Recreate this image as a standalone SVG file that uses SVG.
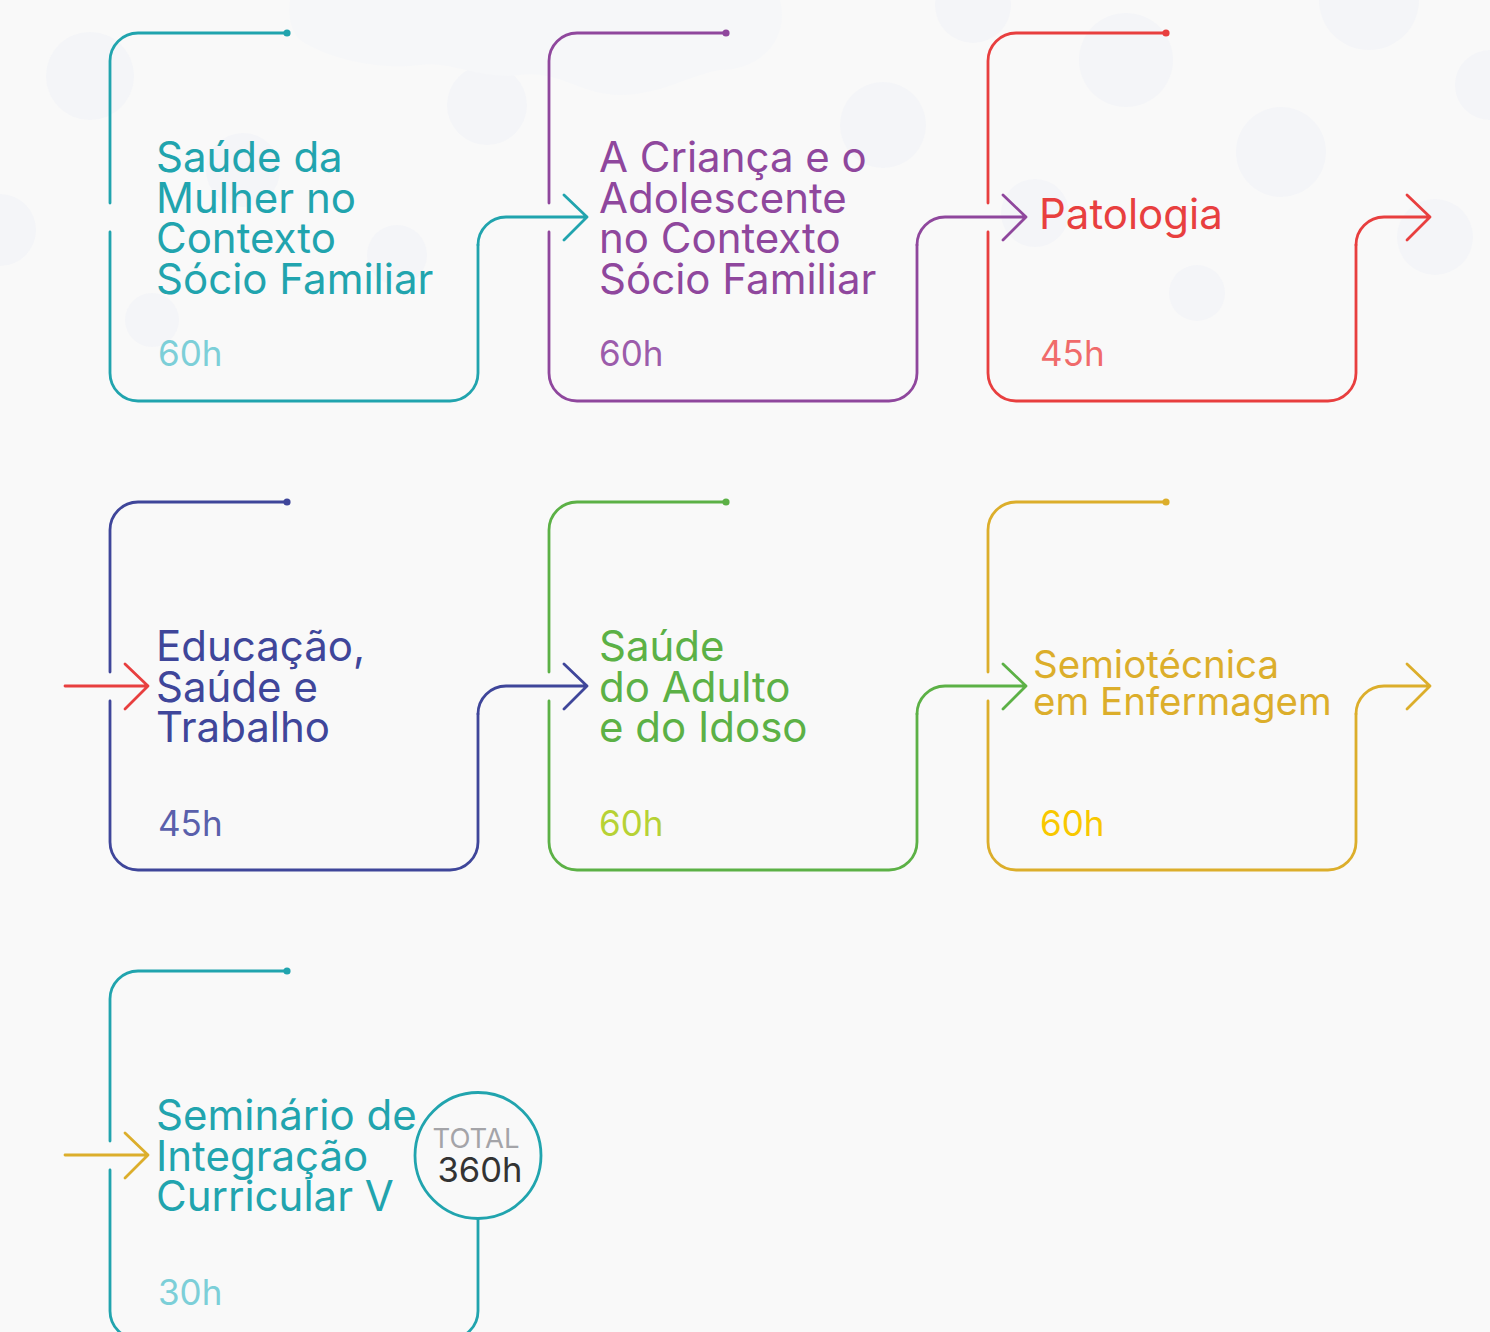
<svg xmlns="http://www.w3.org/2000/svg" width="1490" height="1332" viewBox="0 0 1490 1332">
<style>
.ln{fill:none;stroke-width:2.8;stroke-linecap:round;stroke-linejoin:round}
.t{font-family:Inter,"Noto Sans",sans-serif;font-size:42px}
.t2{font-family:Inter,"Noto Sans",sans-serif;font-size:38.5px}
.h{font-family:Inter,"Noto Sans",sans-serif;font-size:35px}
.teal{stroke:#21a4ae}.purple{stroke:#8f479d}.red{stroke:#e83f3f}.navy{stroke:#3f469a}.green{stroke:#5cb146}.yellow{stroke:#dcae2b}
.fteal{fill:#21a4ae}.fpurple{fill:#8f479d}.fred{fill:#e83f3f}.fnavy{fill:#3f469a}.fgreen{fill:#5cb146}.fyellow{fill:#dcae2b}
.bg{fill:#f4f5f8}
.bg2{fill:#f6f7f9}
</style>
<rect width="1490" height="1332" fill="#f9f9f9"/>
<g id="background">
<circle class="bg" cx="90" cy="76" r="44"/>
<circle class="bg" cx="0" cy="230" r="36"/>
<circle class="bg" cx="243" cy="170" r="37"/>
<circle class="bg" cx="152" cy="320" r="27"/>
<circle class="bg" cx="397" cy="255" r="30"/>
<circle class="bg" cx="487" cy="105" r="40"/>
<path class="bg2" d="M290 0 H780 C790 40 760 70 720 70 C690 75 660 95 620 95 C580 95 560 70 520 75 C480 80 450 60 420 65 C380 70 330 60 300 40 C290 30 288 15 290 0 Z"/>
<circle class="bg" cx="883" cy="125" r="43"/>
<circle class="bg" cx="973" cy="5" r="38"/>
<circle class="bg" cx="1035" cy="213" r="34"/>
<circle class="bg" cx="1126" cy="60" r="47"/>
<circle class="bg" cx="1281" cy="152" r="45"/>
<circle class="bg" cx="1369" cy="0" r="50"/>
<circle class="bg" cx="1490" cy="85" r="35"/>
<circle class="bg" cx="1435" cy="237" r="38"/>
<circle class="bg" cx="1197" cy="293" r="28"/>
</g>

<g id="connectors">
<path class="ln teal" d="M478 245 A28 28 0 0 1 506 217 H587 M564 195 L587 217 L564 240"/>
<path class="ln purple" d="M917 245 A28 28 0 0 1 945 217 H1026 M1003 195 L1026 217 L1003 240"/>
<path class="ln red" d="M1356 245 A28 28 0 0 1 1384 217 H1430 M1407 195 L1430 217 L1407 240"/>
<path class="ln red" d="M65 686 H148 M125 664 L148 686 L125 709"/>
<path class="ln navy" d="M478 714 A28 28 0 0 1 506 686 H587 M564 664 L587 686 L564 709"/>
<path class="ln green" d="M917 714 A28 28 0 0 1 945 686 H1026 M1003 664 L1026 686 L1003 709"/>
<path class="ln yellow" d="M1356 714 A28 28 0 0 1 1384 686 H1430 M1407 664 L1430 686 L1407 709"/>
<path class="ln yellow" d="M65 1155 H148 M125 1133 L148 1155 L125 1178"/>
</g>

<g id="node-saude-mulher">
<path class="ln teal" d="M287 33 H138 A28 28 0 0 0 110 61 V203 M110 232 V373 A28 28 0 0 0 138 401 H450 A28 28 0 0 0 478 373 V245"/>
<circle class="fteal" cx="287" cy="33" r="3.6"/>
<text class="t fteal" x="156" y="172"><tspan x="156">Saúde da</tspan><tspan x="156" dy="40.5">Mulher no</tspan><tspan x="156" dy="40.5">Contexto</tspan><tspan x="156" dy="40.5">Sócio Familiar</tspan></text>
<text class="h" x="158" y="366" fill="#7ccfd8">60h</text>
</g>

<g id="node-crianca">
<path class="ln purple" d="M726 33 H577 A28 28 0 0 0 549 61 V203 M549 232 V373 A28 28 0 0 0 577 401 H889 A28 28 0 0 0 917 373 V245"/>
<circle class="fpurple" cx="726" cy="33" r="3.6"/>
<text class="t fpurple" x="599" y="172"><tspan x="599">A Criança e o</tspan><tspan x="599" dy="40.5">Adolescente</tspan><tspan x="599" dy="40.5">no Contexto</tspan><tspan x="599" dy="40.5">Sócio Familiar</tspan></text>
<text class="h" x="599" y="366" fill="#9c5cab">60h</text>
</g>

<g id="node-patologia">
<path class="ln red" d="M1166 33 H1016 A28 28 0 0 0 988 61 V203 M988 232 V373 A28 28 0 0 0 1016 401 H1328 A28 28 0 0 0 1356 373 V245"/>
<circle class="fred" cx="1166" cy="33" r="3.6"/>
<text class="t fred" x="1039" y="229">Patologia</text>
<text class="h" x="1040" y="366" fill="#f06b6b">45h</text>
</g>

<g id="node-educacao">
<path class="ln navy" d="M287 502 H138 A28 28 0 0 0 110 530 V672 M110 701 V842 A28 28 0 0 0 138 870 H450 A28 28 0 0 0 478 842 V714"/>
<circle class="fnavy" cx="287" cy="502" r="3.6"/>
<text class="t fnavy" x="156" y="661"><tspan x="156">Educação,</tspan><tspan x="156" dy="40.5">Saúde e</tspan><tspan x="156" dy="40.5">Trabalho</tspan></text>
<text class="h" x="158" y="836" fill="#5a60ab">45h</text>
</g>

<g id="node-adulto">
<path class="ln green" d="M726 502 H577 A28 28 0 0 0 549 530 V672 M549 701 V842 A28 28 0 0 0 577 870 H889 A28 28 0 0 0 917 842 V714"/>
<circle class="fgreen" cx="726" cy="502" r="3.6"/>
<text class="t fgreen" x="599" y="661"><tspan x="599">Saúde</tspan><tspan x="599" dy="40.5">do Adulto</tspan><tspan x="599" dy="40.5">e do Idoso</tspan></text>
<text class="h" x="599" y="836" fill="#b7d235">60h</text>
</g>

<g id="node-semiotecnica">
<path class="ln yellow" d="M1166 502 H1016 A28 28 0 0 0 988 530 V672 M988 701 V842 A28 28 0 0 0 1016 870 H1328 A28 28 0 0 0 1356 842 V714"/>
<circle class="fyellow" cx="1166" cy="502" r="3.6"/>
<text class="t2 fyellow" x="1033" y="678"><tspan x="1033">Semiotécnica</tspan><tspan x="1033" dy="37">em Enfermagem</tspan></text>
<text class="h" x="1040" y="836" fill="#f8c800">60h</text>
</g>

<g id="node-seminario">
<path class="ln teal" d="M287 971 H138 A28 28 0 0 0 110 999 V1141 M110 1170 V1311 A28 28 0 0 0 138 1339 H450 A28 28 0 0 0 478 1311 V1219"/>
<circle class="fteal" cx="287" cy="971" r="3.6"/>
<text class="t fteal" x="156" y="1130"><tspan x="156">Seminário de</tspan><tspan x="156" dy="40.5">Integração</tspan><tspan x="156" dy="40.5">Curricular V</tspan></text>
<text class="h" x="158" y="1305" fill="#7ccfd8">30h</text>
</g>

<g id="node-total">
<circle cx="478" cy="1155.5" r="63" fill="#f9f9f9" stroke="#21a4ae" stroke-width="2.8"/>
<text x="476" y="1148" text-anchor="middle" font-family="Inter,'Noto Sans',sans-serif" font-size="27.5" fill="#a4a4a8">TOTAL</text>
<text x="480" y="1182" text-anchor="middle" font-family="Inter,'Noto Sans',sans-serif" font-size="34.5" fill="#333333">360h</text>
</g>
</svg>
